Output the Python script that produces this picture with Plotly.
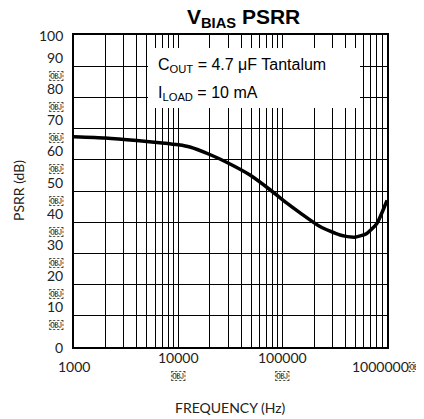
import math
import plotly.graph_objects as go

OBJ = "\ufffc"

freq_hz = [1000, 2000, 4000, 7000, 10000, 12900, 20000, 29000, 48600, 75700,
           109000, 147000, 228000, 355000, 494000, 640000, 800000, 960000, 1000000]
psrr_db = [67.4, 67.0, 66.2, 65.4, 64.8, 64.1, 61.7, 59.2, 55.1, 50.4,
           46.2, 43.0, 38.6, 35.9, 35.2, 36.4, 39.6, 45.5, 47.0]

x_tick_vals = [1000, 10000, 100000, 1000000]
x_tick_text = ["1000", "10000<br>" + OBJ, "100000<br>" + OBJ, "1000000" + OBJ]
y_tick_vals = [0, 10, 20, 30, 40, 50, 60, 70, 80, 90, 100]
y_tick_text = ["0"] + [f"{v}<br>{OBJ}" for v in range(10, 100, 10)] + ["100"]

title_text = "V<sub>BIAS</sub> PSRR"
x_title = "FREQUENCY (Hz)"
y_title = "PSRR (dB)"
note_lines = ["C<sub>OUT</sub> = 4.7 μF Tantalum", "I<sub>LOAD</sub> = 10 mA"]

CAL = "Lato, Liberation Sans, sans-serif"
TICK_FONT = dict(family=CAL, size=14, color="#222")
ARIAL = "Liberation Sans, Arial, sans-serif"

# figure geometry (page body adds an 8px margin)
W, H = 416, 411
ML, MR, MT, MB = 66, 37, 27, 72
PW, PH = W - ML - MR, H - MT - MB


def px_x(p):  # screenshot x -> paper
    return (p - 8 - ML) / PW


def px_y(p):  # screenshot y -> paper
    return (H - MB - (p - 8)) / PH


fig = go.Figure()
fig.add_trace(go.Scatter(
    x=freq_hz, y=psrr_db, mode="lines",
    line=dict(color="black", width=3.5, shape="spline", smoothing=0.6),
    hoverinfo="skip", showlegend=False,
))

fig.update_layout(
    width=W, height=H,
    margin=dict(l=ML, r=MR, t=MT, b=MB),
    paper_bgcolor="white", plot_bgcolor="white",
    showlegend=False,
    xaxis=dict(
        type="log", range=[3, 6], tickvals=x_tick_vals,
        showticklabels=False, showgrid=True, gridcolor="black", gridwidth=1,
        minor=dict(showgrid=True, gridcolor="black", gridwidth=1, dtick="D1"),
        showline=True, linecolor="black", linewidth=1.5, mirror=True,
        zeroline=False, ticks="",
    ),
    yaxis=dict(
        range=[0, 100], tickvals=y_tick_vals, showticklabels=False,
        showgrid=True, gridcolor="black", gridwidth=1,
        showline=True, linecolor="black", linewidth=1.5, mirror=True,
        zeroline=False, ticks="",
    ),
)

# y tick labels (two-line labels centred on their gridline)
for v, t in zip(y_tick_vals, y_tick_text):
    fig.add_annotation(x=px_x(65), xref="paper", y=v, yref="y", text=t, showarrow=False,
                       xanchor="right", yanchor="middle", align="right", font=TICK_FONT)

# x tick labels
for v, t in zip(x_tick_vals, x_tick_text):
    fig.add_annotation(x=math.log10(v), xref="x", y=px_y(366.5), yref="paper", text=t,
                       showarrow=False, xanchor="center", yanchor="middle", align="center",
                       font=TICK_FONT)

# axis titles
fig.add_annotation(x=0.5, xref="paper", y=px_y(407), yref="paper", text=x_title,
                   showarrow=False, xanchor="center", yanchor="middle",
                   font=dict(family=CAL, size=14, color="#222"))
fig.add_annotation(x=px_x(18), xref="paper", y=0.5, yref="paper", text=y_title,
                   showarrow=False, xanchor="center", yanchor="middle", textangle=-90,
                   font=dict(family=CAL, size=14, color="#222"))

# title
fig.add_annotation(x=px_x(243), xref="paper", y=px_y(18.5), yref="paper",
                   text="<b>" + title_text + "</b>", showarrow=False,
                   font=dict(family=ARIAL, size=21, color="black"),
                   xanchor="center", yanchor="middle")

# white note box
fig.add_shape(type="rect", xref="paper", yref="paper",
              x0=px_x(148), x1=px_x(360), y0=px_y(108), y1=px_y(48),
              fillcolor="white", line=dict(width=0), layer="above")
for i, line in enumerate(note_lines):
    fig.add_annotation(x=px_x(156), xref="paper", y=px_y(65 + 28 * i), yref="paper",
                       text=line, showarrow=False, xanchor="left", yanchor="middle",
                       font=dict(family=ARIAL, size=16, color="black"))

fig.write_html("out.html")
